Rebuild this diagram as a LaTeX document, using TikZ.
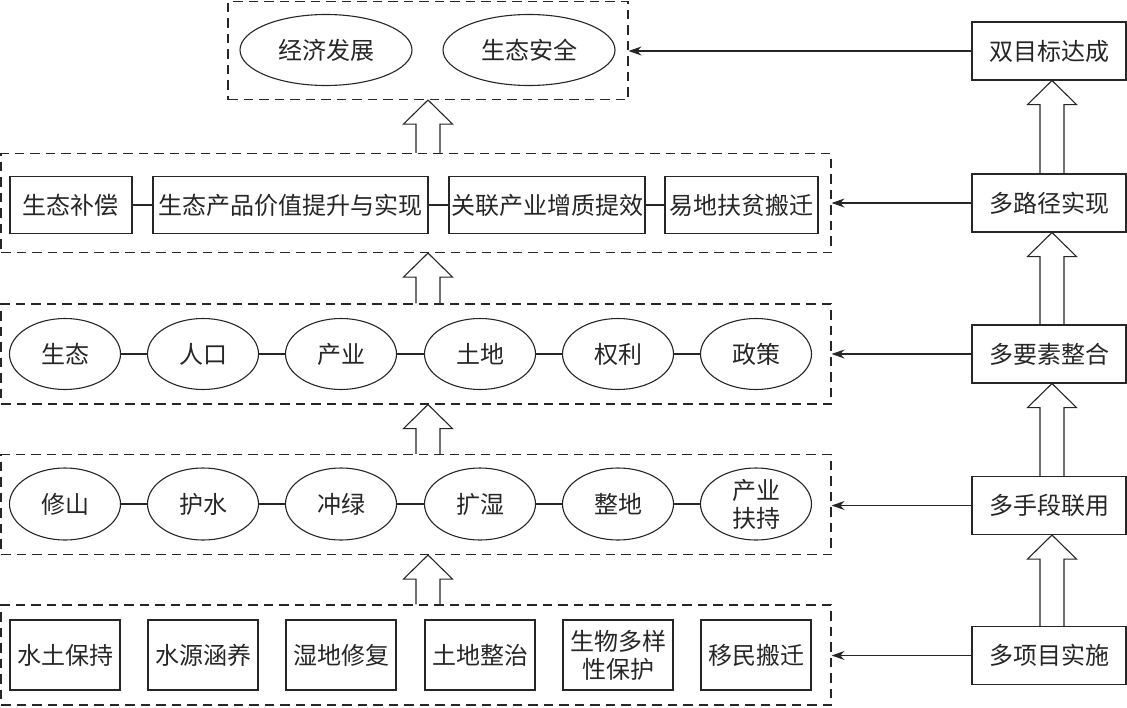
\documentclass[tikz,border=0pt]{standalone}
\usepackage{fontspec}
\newfontfamily\cjk{Noto Sans CJK SC}
\usetikzlibrary{shapes.geometric,arrows.meta,calc}
\definecolor{ink}{gray}{0.15}
\newcommand\hollowup[2]{%
  \draw[link] let \p1=(#1), \p2=(#2) in
    (\x1-12pt,\y1) -- (\x1-12pt,\y2-24pt) -- (\x1-24.5pt,\y2-24pt) -- (\x1,\y2)
    -- (\x1+24.5pt,\y2-24pt) -- (\x1+12pt,\y2-24pt) -- (\x1+12pt,\y1);}
\begin{document}
\begin{tikzpicture}[x=1pt,y=-1pt,
  every node/.style={font=\cjk\fontsize{24}{28}\selectfont, inner sep=0pt, text=ink},
  grp/.style={draw=ink, dash pattern=on 9.5pt off 6pt, line width=1.1pt, rectangle},
  rbox/.style={draw=ink, rectangle, line width=1.1pt, minimum height=57pt},
  ell/.style={draw=ink, ellipse, line width=1.1pt, minimum width=111pt, minimum height=71pt},
  link/.style={draw=ink, line width=1.1pt},
  arr/.style={draw=ink, line width=1.1pt, -{Stealth[length=13pt,width=9pt]}}]
\useasboundingbox (0,0) rectangle (1127,707);
% groups
\node[grp, minimum width=400pt, minimum height=98pt] (g1) at (428,50.5) {};
\node[grp, minimum width=830pt, minimum height=99pt] (g2) at (416,203) {};
\node[grp, minimum width=830pt, minimum height=100pt] (g3) at (416,354) {};
\node[grp, minimum width=830pt, minimum height=100pt] (g4) at (416,504.5) {};
\node[grp, minimum width=830pt, minimum height=100pt] (g5) at (416,655) {};
% row 1
\node[ell, minimum width=172pt] (e1) at (326,50) {经济发展};
\node[ell, minimum width=172pt] (e2) at (529,50) {生态安全};
% row 2
\node[rbox, minimum width=122pt] (b1) at (71,205) {生态补偿};
\node[rbox, minimum width=275pt] (b2) at (290.5,205) {生态产品价值提升与实现};
\node[rbox, minimum width=196pt] (b3) at (547,205) {关联产业增质提效};
\node[rbox, minimum width=153pt] (b4) at (741.5,205) {易地扶贫搬迁};
\draw[link] (b1.east) -- (b2.west);
\draw[link] (b2.east) -- (b3.west);
\draw[link] (b3.east) -- (b4.west);
% row 3
\node[ell] (c1) at (65,354) {生态};
\node[ell] (c2) at (203,354) {人口};
\node[ell] (c3) at (341,354) {产业};
\node[ell] (c4) at (480,354) {土地};
\node[ell] (c5) at (618,354) {权利};
\node[ell] (c6) at (756,354) {政策};
\foreach \a/\b in {c1/c2,c2/c3,c3/c4,c4/c5,c5/c6} \draw[link] (\a.east) -- (\b.west);
% row 4
\node[ell, minimum height=72pt] (d1) at (65,504) {修山};
\node[ell, minimum height=72pt] (d2) at (203,504) {护水};
\node[ell, minimum height=72pt] (d3) at (341,504) {冲绿};
\node[ell, minimum height=72pt] (d4) at (480,504) {扩湿};
\node[ell, minimum height=72pt] (d5) at (618,504) {整地};
\node[ell, minimum height=72pt, align=center] (d6) at (756,504) {产业\\扶持};
\foreach \a/\b in {d1/d2,d2/d3,d3/d4,d4/d5,d5/d6} \draw[link] (\a.east) -- (\b.west);
% row 5
\node[rbox, minimum width=110pt, minimum height=70pt] (f1) at (65,655) {水土保持};
\node[rbox, minimum width=110pt, minimum height=70pt] (f2) at (203,655) {水源涵养};
\node[rbox, minimum width=110pt, minimum height=70pt] (f3) at (341,655) {湿地修复};
\node[rbox, minimum width=110pt, minimum height=70pt] (f4) at (480,655) {土地整治};
\node[rbox, minimum width=110pt, minimum height=70pt, align=center] (f5) at (618,655) {生物多样\\性保护};
\node[rbox, minimum width=110pt, minimum height=70pt] (f6) at (756,655) {移民搬迁};
% right column
\node[rbox, minimum width=154pt, minimum height=58pt] (r1) at (1049,51) {双目标达成};
\node[rbox, minimum width=154pt, minimum height=58pt] (r2) at (1049,203) {多路径实现};
\node[rbox, minimum width=154pt, minimum height=58pt] (r3) at (1049,354) {多要素整合};
\node[rbox, minimum width=154pt, minimum height=58pt] (r4) at (1049,505.5) {多手段联用};
\node[rbox, minimum width=154pt, minimum height=58pt] (r5) at (1049,655.5) {多项目实施};
\draw[arr] (r1.west) -- (r1.west -| g1.east);
\draw[arr] (r2.west) -- (r2.west -| g2.east);
\draw[arr] (r3.west) -- (r3.west -| g3.east);
\draw[arr] (r4.west) -- (r4.west -| g4.east);
\draw[arr] (r5.west) -- (r5.west -| g5.east);
% hollow arrows right
\coordinate (rx) at (1052,0);
\hollowup{r2.north -| rx}{r1.south -| rx}
\hollowup{r3.north -| rx}{r2.south -| rx}
\hollowup{r4.north -| rx}{r3.south -| rx}
\hollowup{r5.north -| rx}{r4.south -| rx}
% hollow arrows middle
\coordinate (ax) at (428,0);
\hollowup{g2.north -| ax}{g1.south -| ax}
\hollowup{g3.north -| ax}{g2.south -| ax}
\hollowup{g4.north -| ax}{g3.south -| ax}
\hollowup{g5.north -| ax}{g4.south -| ax}
\end{tikzpicture}
\end{document}
